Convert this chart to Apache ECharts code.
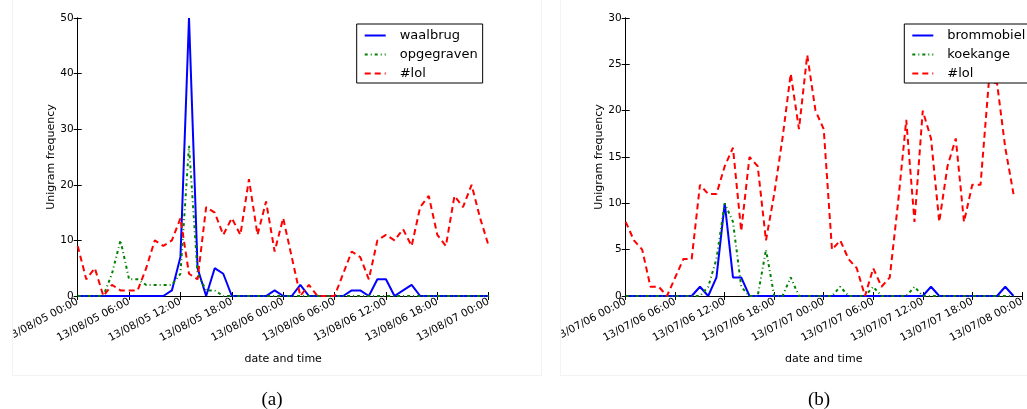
<!DOCTYPE html>
<html>
<head>
<meta charset="utf-8">
<script src="https://cdn.jsdelivr.net/npm/echarts@6/dist/echarts.min.js"></script>
<style>
html,body{margin:0;padding:0;background:#fff;}
#c{width:1027px;height:409px;}
</style>
</head>
<body>
<div id="c"></div>
<script>
// ---- data (hourly samples) ----
const xLabelsA = ['13/08/05 00:00','13/08/05 06:00','13/08/05 12:00','13/08/05 18:00','13/08/06 00:00','13/08/06 06:00','13/08/06 12:00','13/08/06 18:00','13/08/07 00:00'];
const xLabelsB = ['13/07/06 00:00','13/07/06 06:00','13/07/06 12:00','13/07/06 18:00','13/07/07 00:00','13/07/07 06:00','13/07/07 12:00','13/07/07 18:00','13/07/08 00:00'];
const yTicksA = [0,10,20,30,40,50];
const yTicksB = [0,5,10,15,20,25,30];

const waalbrug   = [0,0,0,0,0,0,0,0,0,0,0, 1,7,50,5,0,5,4,0, 0,0,0,0, 1,0,0,2,0,0,0,0,0, 1,1,0,3,3,0,1,2, 0,0,0,0,0,0,0,0,0];
const opgegraven = [0,0,0,0,4,10,3,3,2,2,2,2,4,27,4,1,1,0, 0,0,0,0,0,0,0,0,0,0,0,0,0,0,0,0,0,0,0,0,0,0,0,0,0,0,0,0,0,0,0];
const lolA       = [9,3,5,0,2,1,1,1,5,10,9,10,14,4,3,16,15,11,14,11,21,11,17,8,14,7,0,2,0,0,0,4,8,7,3,10,11,10,12,9,16,18,11,9,18,16,20,14,9];

const brommobiel = [0,0,0,0,0,0,0,0,0,1,0,2,10,2,2,0,0,0,0,0,0,0,0,0,0,0,0,0,0,0,0,0,0,0,0,0,0,1,0,0,0,0,0,0,0,0,1,0];
const koekange   = [0,0,0,0,0,0,0,0,0,0,1,4,10,8,1,0,0,5,0,0,2,0,0,0,0,0,1,0,0,0,1,0,0,0,0,1,0,0,0,0,0,0,0,0,0,0,0,0];
const lolB       = [8,6,5,1,1,0,2,4,4,12,11,11,14,16,7,15,14,6,11,17,24,18,26,20,18,5,6,4,3,0,3,1,2,10,19,8,20,17,8,14,17,8,12,12,23,23,16,11];

const pairs = arr => arr.map((v,i)=>[i,v]);

const FONT = 'DejaVu Sans';
const BLUE = '#0000ff', GREEN = '#008000', RED = '#ff0000';
const frame = {show:true, lineStyle:{color:'#000', width:1}};
const tick = {show:true, inside:true, length:4, lineStyle:{color:'#000', width:1}};

function xAxes(grid, labels){
  return [
    {type:'value', gridIndex:grid, position:'bottom', min:0, max:48, interval:6,
     axisLine:frame, axisTick:tick, splitLine:{show:false},
     axisLabel:{show:true, rotate:28, margin:5, fontFamily:FONT, fontSize:10.5, color:'#000',
       formatter: v => labels[Math.round(v/6)]},
     name:'date and time', nameLocation:'middle', nameGap:58,
     nameTextStyle:{fontFamily:FONT, fontSize:11, color:'#000'}},
    {type:'value', gridIndex:grid, position:'top', min:0, max:48, interval:6,
     axisLine:frame, axisTick:tick, splitLine:{show:false}, axisLabel:{show:false}}
  ];
}
function yAxes(grid, ticks){
  const mx = ticks[ticks.length-1], iv = ticks[1]-ticks[0];
  return [
    {type:'value', gridIndex:grid, position:'left', min:0, max:mx, interval:iv,
     axisLine:frame, axisTick:tick, splitLine:{show:false},
     axisLabel:{show:true, margin:4, fontFamily:FONT, fontSize:10.5, color:'#000'},
     name:'Unigram frequency', nameLocation:'middle', nameRotate:90, nameGap:21,
     nameTextStyle:{fontFamily:FONT, fontSize:11, color:'#000'}},
    {type:'value', gridIndex:grid, position:'right', min:0, max:mx, interval:iv,
     axisLine:frame, axisTick:tick, splitLine:{show:false}, axisLabel:{show:false}}
  ];
}
function ser(name, data, xi, yi, color, type){
  return {type:'line', name:name, data:pairs(data), xAxisIndex:xi, yAxisIndex:yi,
    symbol:'none', silent:true, animation:false,
    lineStyle:{color:color, width:2, type:type}, itemStyle:{color:color}};
}
const DASH = [6,4], DASHDOT = [3,3,1,3];
const legendBase = {orient:'vertical', top:24, itemWidth:21, itemHeight:14, itemGap:6,
  padding:[5,5,3,7], borderColor:'#000', borderWidth:1, backgroundColor:'#fff', borderRadius:0,
  itemStyle:{opacity:0, borderWidth:0},
  textStyle:{fontFamily:FONT, fontSize:13, color:'#000', padding:[0,0,0,9]}, selectedMode:false};

const chart = echarts.init(document.getElementById('c'), null, {renderer:'canvas'});
chart.setOption({
  animation:false,
  backgroundColor:'#fff',
  grid:[
    {left:77.7, top:18, width:411, height:278, containLabel:false},
    {left:625.7, top:18, width:411, height:278, containLabel:false}
  ],
  xAxis:[...xAxes(0, xLabelsA), ...xAxes(1, xLabelsB)],
  yAxis:[...yAxes(0, yTicksA), ...yAxes(1, yTicksB)],
  legend:[
    Object.assign({}, legendBase, {left:356.7, data:['waalbrug','opgegraven','#lol']}),
    Object.assign({}, legendBase, {left:904.3, data:['brommobiel','koekange','#lol']})
  ],
  series:[
    ser('waalbrug', waalbrug, 0, 0, BLUE, 'solid'),
    ser('opgegraven', opgegraven, 0, 0, GREEN, DASHDOT),
    ser('#lol', lolA, 0, 0, RED, DASH),
    ser('brommobiel', brommobiel, 2, 2, BLUE, 'solid'),
    ser('koekange', koekange, 2, 2, GREEN, DASHDOT),
    ser('#lol', lolB, 2, 2, RED, DASH)
  ],
  graphic:[
    {type:'rect', z:100, shape:{x:0, y:290, width:12, height:119}, style:{fill:'#fff'}},
    {type:'rect', z:100, shape:{x:542, y:290, width:18, height:119}, style:{fill:'#fff'}},
    {type:'line', z:101, shape:{x1:12.5, y1:0, x2:12.5, y2:375}, style:{stroke:'#f3f3f3', lineWidth:1}},
    {type:'line', z:101, shape:{x1:541.5, y1:0, x2:541.5, y2:375}, style:{stroke:'#f3f3f3', lineWidth:1}},
    {type:'line', z:101, shape:{x1:12, y1:375.5, x2:542, y2:375.5}, style:{stroke:'#f3f3f3', lineWidth:1}},
    {type:'line', z:101, shape:{x1:560.5, y1:0, x2:560.5, y2:375}, style:{stroke:'#f3f3f3', lineWidth:1}},
    {type:'line', z:101, shape:{x1:560, y1:375.5, x2:1027, y2:375.5}, style:{stroke:'#f3f3f3', lineWidth:1}},
    {type:'text', z:101, style:{text:'(a)', x:272, y:400, textAlign:'center', textVerticalAlign:'middle', font:'19px "Liberation Serif"', fill:'#000'}},
    {type:'text', z:101, style:{text:'(b)', x:819, y:400, textAlign:'center', textVerticalAlign:'middle', font:'19px "Liberation Serif"', fill:'#000'}}
  ]
});
</script>
</body>
</html>
